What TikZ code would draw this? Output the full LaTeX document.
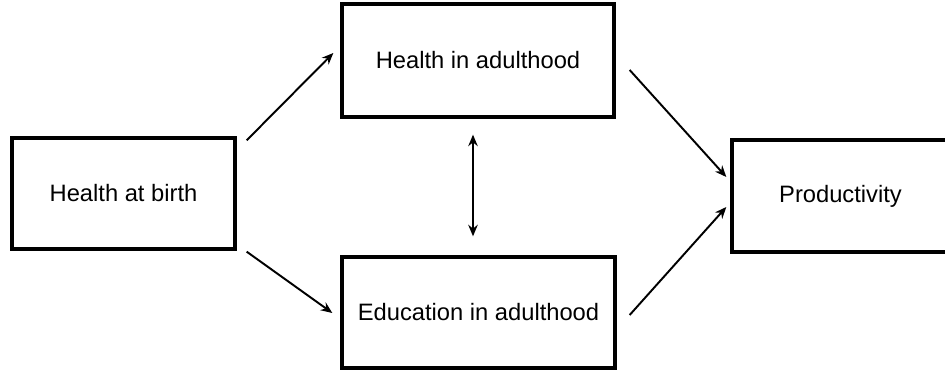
\documentclass[tikz,border=0pt]{standalone}
\usepackage{fontspec}
\setmainfont{Liberation Sans}
\usetikzlibrary{arrows.meta,calc}
\tikzset{
  blk/.style={draw=black,line width=1.9pt,minimum height=2.22cm,minimum width=4.46cm,
              align=center,font=\fontsize{13.5}{16}\selectfont,inner sep=3pt},
  arr/.style={-{Stealth[length=2.3mm,width=1.9mm]},line width=1.1pt,black},
  darr/.style={{Stealth[length=2.3mm,width=1.9mm]}-{Stealth[length=2.3mm,width=1.9mm]},line width=1.1pt,black},
}
\begin{document}
\begin{tikzpicture}
\useasboundingbox (0,0) rectangle (18.9,7.4);
% boxes
\node[blk] (birth) at (2.47,3.53) {Health at birth};
\node[blk,minimum width=5.44cm,minimum height=2.26cm] (hadult) at (9.56,6.19) {Health in adulthood};
\node[blk,minimum width=5.46cm] (edu) at (9.57,1.15) {Education in adulthood};
\node[blk,minimum width=4.34cm,minimum height=2.24cm] (prod) at (16.81,3.48) {Productivity};
% arrows
\draw[arr] ($(birth.north east)+(0.2,-0.08)$) -- ($(hadult.west)+(-0.14,0.15)$);
\draw[arr] ($(birth.south east)+(0.2,-0.02)$) -- ($(edu.west)+(-0.16,-0.01)$);
\draw[arr] ($(hadult.east)+(0.28,-0.19)$) -- ($(prod.west)+(-0.08,0.38)$);
\draw[arr] ($(edu.east)+(0.26,-0.05)$) -- ($(prod.west)+(-0.08,-0.22)$);
\draw[darr] ($(hadult.south)+(-0.1,-0.32)$) -- ($(edu.north)+(-0.11,0.38)$);
\end{tikzpicture}
\end{document}
